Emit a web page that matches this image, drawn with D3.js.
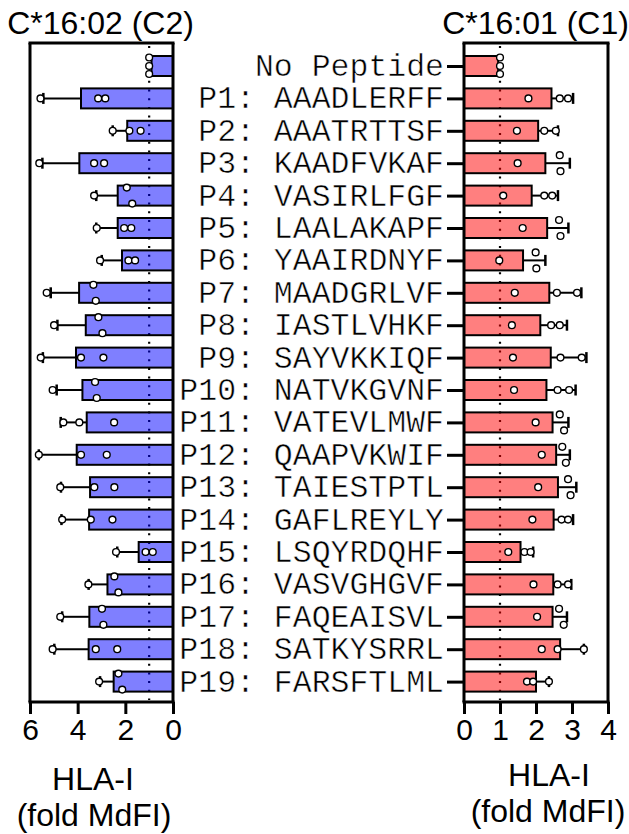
<!DOCTYPE html>
<html><head><meta charset="utf-8">
<script src="https://cdn.jsdelivr.net/npm/d3@7"></script>
<style>body{margin:0;background:#fff}svg{display:block}</style>
</head><body>
<script>
const categories = ["No Peptide","P1: AAADLERFF","P2: AAATRTTSF","P3: KAADFVKAF","P4: VASIRLFGF","P5: LAALAKAPF","P6: YAAIRDNYF","P7: MAADGRLVF","P8: IASTLVHKF","P9: SAYVKKIQF","P10: NATVKGVNF","P11: VATEVLMWF","P12: QAAPVKWIF","P13: TAIESTPTL","P14: GAFLREYLY","P15: LSQYRDQHF","P16: VASVGHGVF","P17: FAQEAISVL","P18: SATKYSRRL","P19: FARSFTLML"];

// C*16:02 (C2) - left panel
const c2Mean = [0.9,3.86,1.92,3.93,2.32,2.32,2.14,3.94,3.66,4.07,3.80,3.62,4.04,3.48,3.52,1.44,2.75,3.51,3.54,2.49];
const c2SD   = [0,1.58,0.61,1.55,0.90,0.90,0.85,1.19,1.19,1.39,1.08,1.09,1.59,1.22,1.16,0.90,0.79,1.14,1.44,0.57];
const c2Points = [[1,1,1],[5.56,3.14,2.84],[2.53,1.83,1.36],[5.61,3.31,2.89],[3.31,1.94,1.71],[3.20,2.05,1.75],[3.06,1.87,1.59],[5.30,3.34,3.24],[4.99,3.13,2.96],[5.55,3.86,2.92],[5.05,3.27,3.20],[4.60,3.93,2.47],[5.63,3.86,2.78],[4.73,3.30,2.46],[4.65,3.45,2.54],[2.39,1.15,0.85],[3.55,2.46,2.29],[4.73,2.98,2.92],[5.05,3.24,2.34],[3.10,2.29,2.13]];

// C*16:01 (C1) - right panel
const c1Mean = [0.95,2.43,2.06,2.26,1.88,2.31,1.64,2.37,2.12,2.41,2.29,2.46,2.56,2.61,2.49,1.57,2.48,2.46,2.67,2.00];
const c1SD   = [0,0.60,0.55,0.68,0.73,0.59,0.62,0.89,0.74,0.99,0.81,0.44,0.38,0.51,0.54,0.35,0.50,0.40,0.66,0.36];
const c1Points = [[1,1,1],[1.79,2.66,2.89],[1.47,2.23,2.55],[1.49,2.66,2.68],[1.09,2.23,2.45],[1.63,2.64,2.68],[0.98,1.99,2.01],[1.41,2.58,3.14],[1.33,2.42,2.66],[1.36,2.68,3.27],[1.39,2.60,2.92],[1.99,2.66,2.78],[2.16,2.73,2.83],[2.06,2.89,2.96],[1.90,2.71,2.89],[1.23,1.68,1.85],[1.93,2.60,2.89],[2.03,2.64,2.77],[2.16,2.60,3.33],[1.75,1.92,2.36]];

const c2Ticks = [0,2,4,6];
const c1Ticks = [0,1,2,3,4];
const titles = ["C*16:02 (C2)","C*16:01 (C1)"];
const axisTitle = ["HLA-I","(fold MdFI)"];

const W = 629, H = 834;
const svg = d3.select("body").append("svg").attr("width",W).attr("height",H);
const TOP = 43, BOT = 702;
const y = d3.scalePoint().domain(categories).range([66, 681.6]);
const BAR_H = 20;
const SANS = "Liberation Sans, Arial, sans-serif";
const MONO = "Liberation Mono, Courier New, monospace";

function panel(opts){
  const {x, mean, sd, pts, color, ticks} = opts;
  const g = svg.append("g");
  // reference dotted line at 1
  g.append("line").attr("x1",x(1)).attr("x2",x(1)).attr("y1",TOP+3).attr("y2",BOT-2)
    .attr("stroke","#000").attr("stroke-width",2.2).attr("stroke-dasharray","2,6.7");
  // bars
  g.selectAll("rect.bar").data(categories).join("rect").attr("class","bar")
    .attr("x",(d,i)=>Math.min(x(0),x(mean[i])))
    .attr("width",(d,i)=>Math.abs(x(mean[i])-x(0)))
    .attr("y",d=>y(d)-BAR_H/2).attr("height",BAR_H)
    .attr("fill",color).attr("fill-opacity",0.5)
    .attr("stroke","#000").attr("stroke-width",2);
  // error bars
  categories.forEach((c,i)=>{
    if(sd[i]<=0) return;
    const yc = y(c);
    g.append("line").attr("x1",x(mean[i])).attr("x2",x(mean[i]+sd[i])).attr("y1",yc).attr("y2",yc)
      .attr("stroke","#000").attr("stroke-width",2);
    g.append("line").attr("x1",x(mean[i]+sd[i])).attr("x2",x(mean[i]+sd[i])).attr("y1",yc-5.5).attr("y2",yc+5.5)
      .attr("stroke","#000").attr("stroke-width",2.5);
  });
  // points with collision stacking
  categories.forEach((c,i)=>{
    const px = pts[i].map(v=>({v, px:x(v)})).sort((a,b)=>a.px-b.px);
    const clusters = [];
    px.forEach(p=>{
      const last = clusters[clusters.length-1];
      if(last && Math.abs(p.px - last[last.length-1].px) < 5.8) last.push(p); else clusters.push([p]);
    });
    clusters.forEach(cl=>{
      const offs = cl.length===1?[0]:cl.length===2?[-8,8]:[-8.5,0,8];
      cl.forEach((p,k)=>{
        g.append("circle").attr("cx",p.px).attr("cy",y(c)+offs[k]).attr("r",3.4)
          .attr("fill","#fff").attr("stroke","#000").attr("stroke-width",1.4);
      });
    });
  });
  // frame
  const xl = Math.min(x.range()[0],x.range()[1]), xr = Math.max(x.range()[0],x.range()[1]);
  g.append("line").attr("x1",xl-1.5).attr("x2",xr+1.5).attr("y1",TOP).attr("y2",TOP).attr("stroke","#000").attr("stroke-width",3);
  g.append("line").attr("x1",xl).attr("x2",xl).attr("y1",TOP).attr("y2",BOT).attr("stroke","#000").attr("stroke-width",3);
  g.append("line").attr("x1",xr).attr("x2",xr).attr("y1",TOP).attr("y2",BOT).attr("stroke","#000").attr("stroke-width",3);
  // bottom axis
  const ax = g.append("g").attr("transform",`translate(0,${BOT})`)
    .call(d3.axisBottom(x).tickValues(ticks).tickSize(12).tickPadding(5).tickFormat(d3.format("d")));
  ax.select(".domain").attr("stroke-width",3).attr("d",`M${xl-1.5},0H${xr+1.5}`);
  ax.selectAll(".tick line").attr("stroke-width",3);
  ax.selectAll(".tick text").attr("font-family",SANS).attr("font-size",30).attr("fill","#000");
  return g;
}

const xL = d3.scaleLinear().domain([0,6]).range([173,30]);
const xR = d3.scaleLinear().domain([0,4]).range([464,608]);
panel({x:xL, mean:c2Mean, sd:c2SD, pts:c2Points, color:"#0000ff", ticks:c2Ticks});
panel({x:xR, mean:c1Mean, sd:c1SD, pts:c1Points, color:"#ff0000", ticks:c1Ticks});

// category axis on right panel
const ay = svg.append("g").attr("transform",`translate(464,0)`)
  .call(d3.axisLeft(y).tickSize(17).tickPadding(3));
ay.select(".domain").remove();
ay.selectAll(".tick line").attr("stroke-width",3);
ay.selectAll(".tick text").attr("font-family",MONO).attr("font-size",31.5).attr("fill","#000")
  .attr("dy","0.3em").attr("stroke","#fff").attr("stroke-width",0.5);

// titles
svg.append("text").attr("x",100.5).attr("y",34).attr("text-anchor","middle")
  .attr("font-family",SANS).attr("font-size",32).text(titles[0]);
svg.append("text").attr("x",535.5).attr("y",34).attr("text-anchor","middle")
  .attr("font-family",SANS).attr("font-size",32).text(titles[1]);
// axis titles
svg.append("text").attr("x",93).attr("y",790).attr("text-anchor","middle").attr("font-family",SANS).attr("font-size",32).text(axisTitle[0]);
svg.append("text").attr("x",94).attr("y",826).attr("text-anchor","middle").attr("font-family",SANS).attr("font-size",32).text(axisTitle[1]);
svg.append("text").attr("x",549).attr("y",786).attr("text-anchor","middle").attr("font-family",SANS).attr("font-size",32).text(axisTitle[0]);
svg.append("text").attr("x",548).attr("y",822).attr("text-anchor","middle").attr("font-family",SANS).attr("font-size",32).text(axisTitle[1]);
</script>
</body></html>
